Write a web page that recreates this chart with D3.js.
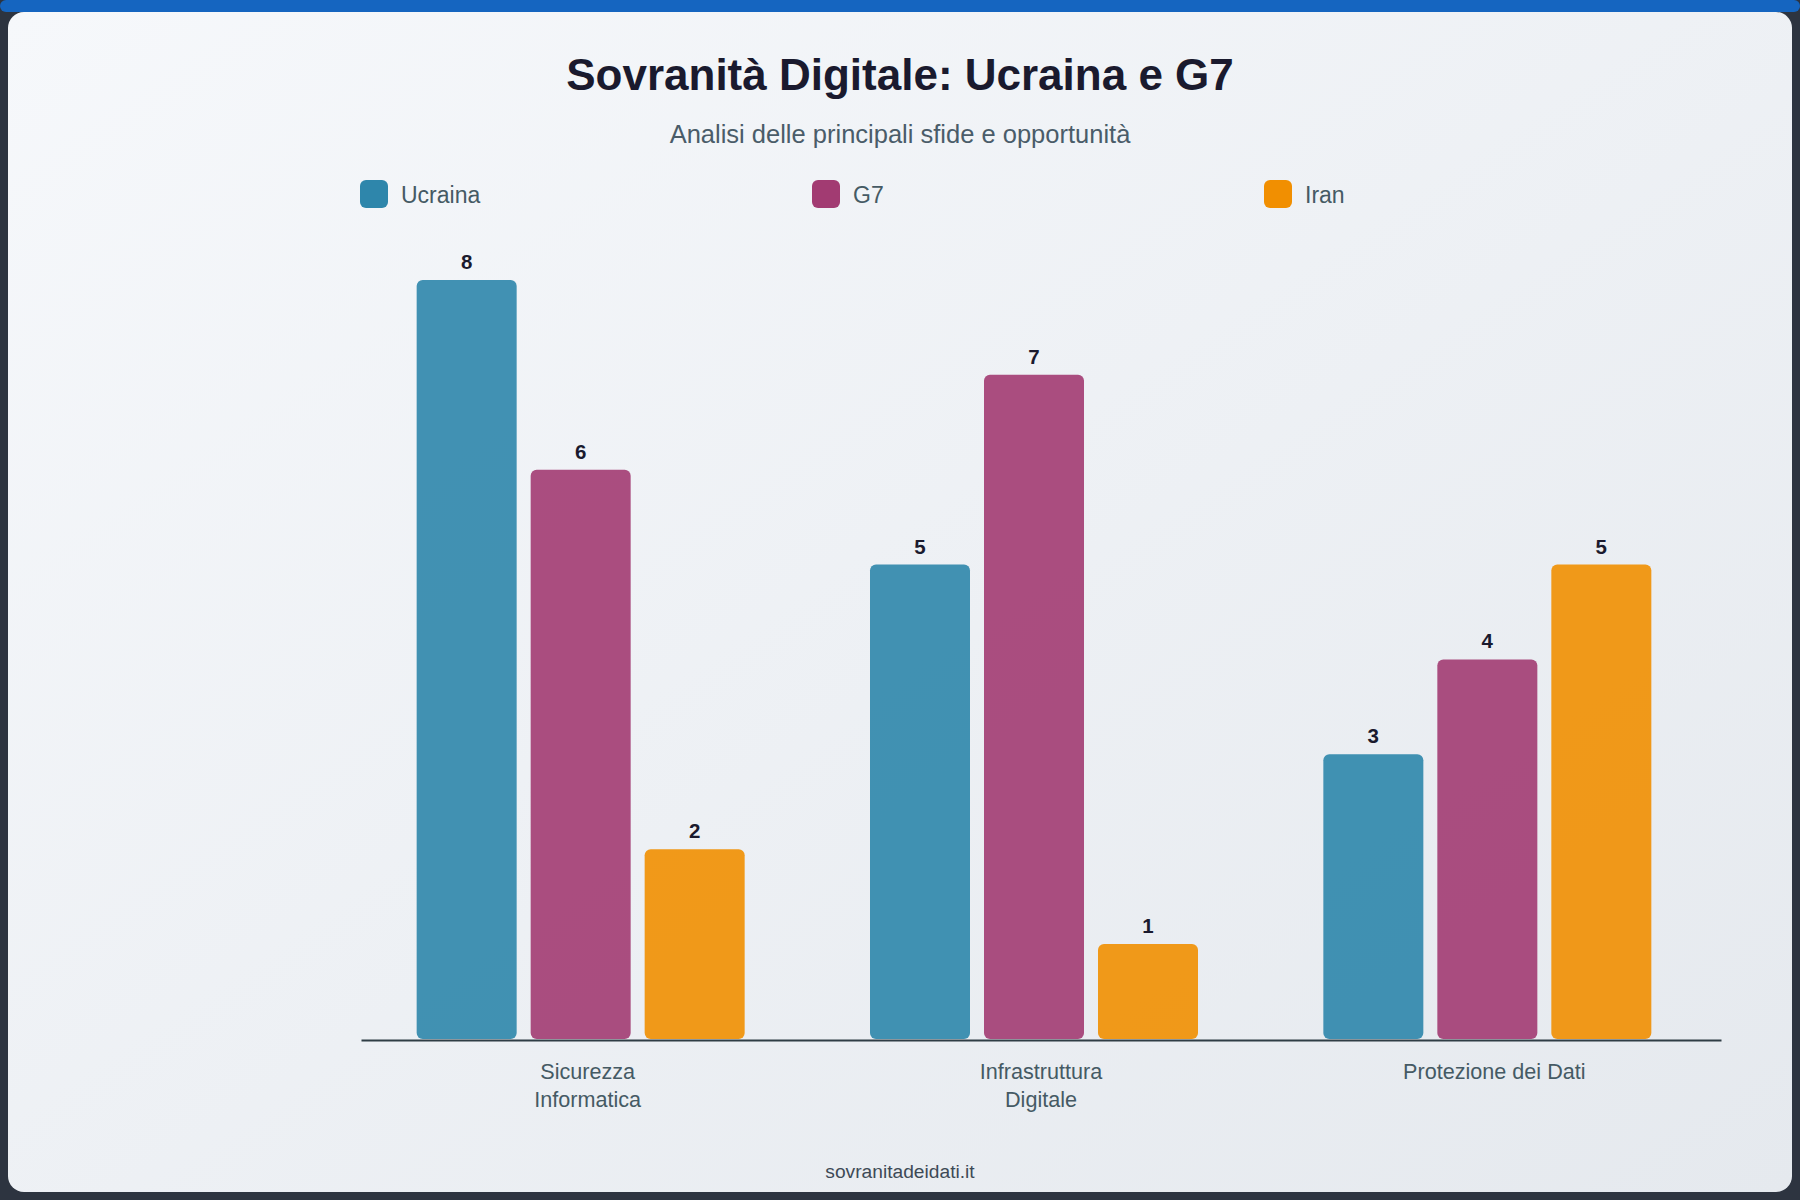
<!DOCTYPE html>
<html lang="it">
<head>
    <meta charset="UTF-8">
    <title>Sovranità Digitale: Ucraina e G7</title>
    <style>
        html, body { margin: 0; padding: 0; background: #2d3440; }
        svg { display: block; font-family: "Liberation Sans", Arial, Helvetica, sans-serif; }
    </style>
</head>
<body>
    <div id="chart"></div>

    <script src="https://cdn.jsdelivr.net/npm/d3@7/dist/d3.min.js"></script>
    <script>
        // categories shown on the x axis (split into lines as in the original)
        const categories = ["Sicurezza Informatica", "Infrastruttura Digitale", "Protezione dei Dati"];
        const categoryLines = [["Sicurezza", "Informatica"], ["Infrastruttura", "Digitale"], ["Protezione dei Dati"]];

        const seriesNames = ["Ucraina", "G7", "Iran"];
        const seriesColors = ["#2E86AB", "#A23B72", "#F18F01"];

        // scores per category
        const ucrainaValues = [8, 5, 3];
        const g7Values = [6, 7, 4];
        const iranValues = [2, 1, 5];

        const width = 1800, height = 1200;
        const margin = {top: 204, right: 80, bottom: 161, left: 360};

        const svg = d3.select("#chart")
            .append("svg")
            .attr("width", width)
            .attr("height", height);

        const defs = svg.append("defs");
        const grad = defs.append("linearGradient")
            .attr("id", "bg")
            .attr("x1", "0%").attr("y1", "0%")
            .attr("x2", "100%").attr("y2", "100%");
        grad.append("stop").attr("offset", "0%").attr("stop-color", "#f6f8fb");
        grad.append("stop").attr("offset", "100%").attr("stop-color", "#e5e9ee");

        // frame
        svg.append("rect").attr("width", width).attr("height", height).attr("fill", "#2d3440");
        svg.append("rect")
            .attr("x", 0).attr("y", 0)
            .attr("width", width).attr("height", 12)
            .attr("rx", 6)
            .attr("fill", "#1565c0");
        svg.append("rect")
            .attr("x", 8).attr("y", 12)
            .attr("width", width - 16).attr("height", height - 20)
            .attr("rx", 16)
            .attr("fill", "url(#bg)");

        // title + subtitle
        svg.append("text")
            .attr("x", width / 2).attr("y", 90)
            .attr("text-anchor", "middle")
            .attr("font-size", 44)
            .attr("font-weight", "bold")
            .attr("fill", "#1a1a2e")
            .text("Sovranità Digitale: Ucraina e G7");

        svg.append("text")
            .attr("x", width / 2).attr("y", 143)
            .attr("text-anchor", "middle")
            .attr("font-size", 25.5)
            .attr("fill", "#4a5c69")
            .text("Analisi delle principali sfide e opportunità");

        const data = categories.map((c, i) => ({
            category: c,
            values: [ucrainaValues[i], g7Values[i], iranValues[i]]
        }));

        const x0 = d3.scaleBand()
            .domain(categories)
            .range([margin.left + 1, width - margin.right + 1])
            .paddingInner(0.2456)
            .paddingOuter(0.1228);

        const x1 = d3.scaleBand()
            .domain(seriesNames)
            .range([0, x0.bandwidth()]);

        const barGap = 14;

        const y = d3.scaleLinear()
            .domain([0, d3.max([...ucrainaValues, ...g7Values, ...iranValues]) * 1.1])
            .range([height - margin.bottom, margin.top]);

        const color = d3.scaleOrdinal()
            .domain(seriesNames)
            .range(seriesColors);

        // legend
        const legend = svg.append("g")
            .selectAll("g.legend-item")
            .data(seriesNames)
            .join("g")
                .classed("legend-item", true)
                .attr("transform", (d, i) => `translate(${margin.left + i * 452}, 180)`);

        legend.append("rect")
            .attr("width", 28).attr("height", 28)
            .attr("rx", 6)
            .attr("fill", (d) => color(d));

        legend.append("text")
            .attr("x", 41).attr("y", 23)
            .attr("font-size", 23)
            .attr("fill", "#455a64")
            .text((d) => d);

        // bars
        const groups = svg.append("g")
            .selectAll("g.group")
            .data(data)
            .join("g")
                .classed("group", true)
                .attr("transform", (d) => `translate(${x0(d.category)}, 0)`);

        const bars = groups.selectAll("g.bar")
            .data((d) => d.values.map((v, i) => ({key: seriesNames[i], value: v})))
            .join("g")
                .classed("bar", true);

        bars.append("rect")
            .attr("x", (d) => x1(d.key))
            .attr("y", (d) => y(d.value))
            .attr("width", x1.bandwidth() - barGap)
            .attr("height", (d) => y(0) - y(d.value))
            .attr("rx", 6)
            .attr("fill", (d) => color(d.key))
            .attr("opacity", 0.9);

        bars.append("text")
            .attr("x", (d) => x1(d.key) + (x1.bandwidth() - barGap) / 2)
            .attr("y", (d) => y(d.value) - 11)
            .attr("text-anchor", "middle")
            .attr("font-size", 20.5)
            .attr("font-weight", "bold")
            .attr("fill", "#1a1a2e")
            .text((d) => d.value);

        // x axis
        const xAxis = svg.append("g")
            .attr("transform", `translate(0, ${y(0) + 1})`)
            .call(d3.axisBottom(x0).tickSize(0).tickSizeOuter(0));

        xAxis.select(".domain")
            .attr("stroke", "#2f3d45")
            .attr("stroke-width", 2);

        xAxis.selectAll(".tick text").remove();
        xAxis.selectAll(".tick")
            .append("text")
            .attr("text-anchor", "middle")
            .attr("font-size", 21.6)
            .attr("font-family", "'Liberation Sans', Arial, sans-serif")
            .attr("fill", "#455a64")
            .selectAll("tspan")
            .data((d) => categoryLines[categories.indexOf(d)])
            .join("tspan")
                .attr("x", 0)
                .attr("y", (d, i) => 39 + i * 28)
                .text((d) => d);

        // footer
        svg.append("text")
            .attr("x", width / 2).attr("y", 1178)
            .attr("text-anchor", "middle")
            .attr("font-size", 19.2)
            .attr("fill", "#3d4a56")
            .text("sovranitadeidati.it");
    </script>
</body>
</html>
